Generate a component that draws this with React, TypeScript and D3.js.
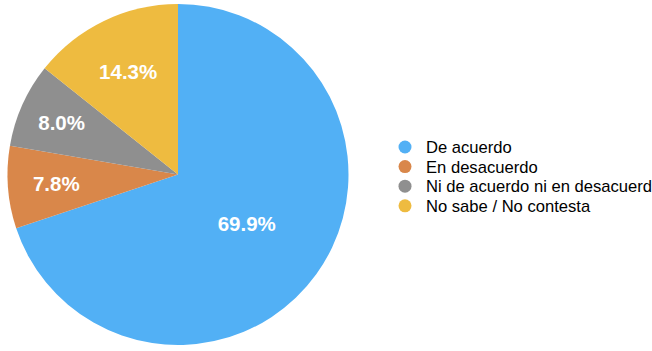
import React from "react";
import * as d3 from "d3";

const categories = ["De acuerdo", "En desacuerdo", "Ni de acuerdo ni en desacuerdo", "No sabe / No contesta"];
const values = [69.9, 7.8, 8.0, 14.3];
const colors = ["#52B0F5", "#D9874A", "#8F8F8F", "#EEBB40"];
const labelRadiusFactor = [0.497, 0.716, 0.748, 0.673];

const W = 652;
const H = 351;
const cx = 178;
const cy = 174.5;
const R = 170.5;

export default function App() {
  const pie = d3.pie<number>().sort(null).value((d) => d)(values);
  const arc = d3.arc<d3.PieArcDatum<number>>().innerRadius(0).outerRadius(R);
  const font = "'Liberation Sans', Arial, Helvetica, sans-serif";
  return (
    <svg width={W} height={H} style={{ position: "absolute", left: 0, top: 0, background: "#fff" }}>
      <g transform={`translate(${cx},${cy})`}>
        {pie.map((p, i) => (
          <path key={i} d={arc(p) || ""} fill={colors[i]} />
        ))}
        {pie.map((p, i) => {
          const a = (p.startAngle + p.endAngle) / 2;
          const r = R * labelRadiusFactor[i];
          const x = Math.sin(a) * r;
          const y = -Math.cos(a) * r;
          return (
            <text key={i} x={x} y={y} dy="0.36em" textAnchor="middle" fill="#fff" fontFamily={font} fontWeight="bold" fontSize={20.5}>
              {d3.format(".1f")(values[i])}%
            </text>
          );
        })}
      </g>
      <g fontFamily={font} fontSize={16.6} fill="#000">
        {categories.map((c, i) => (
          <g key={i} transform={`translate(405,${147 + i * 19.6})`}>
            <circle r={6.5} fill={colors[i]} />
            <text x={21} dy="0.36em">{c}</text>
          </g>
        ))}
      </g>
    </svg>
  );
}
